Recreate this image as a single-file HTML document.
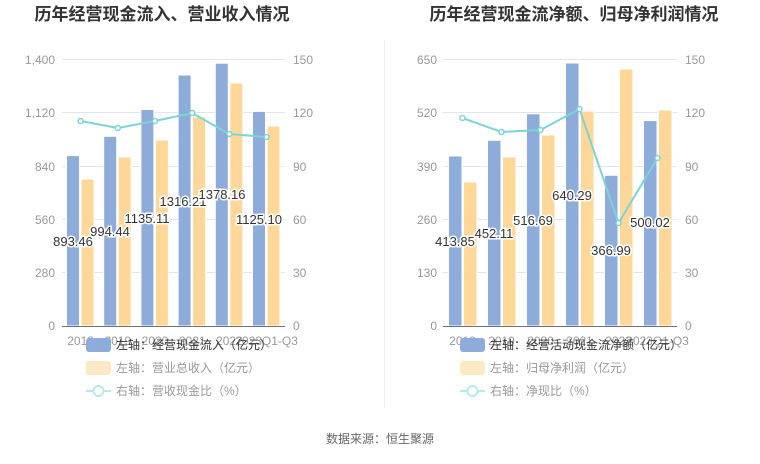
<!DOCTYPE html>
<html><head><meta charset="utf-8"><style>
body{margin:0;background:#fff;}
svg text{font-family:"Liberation Sans","Noto Sans CJK SC",sans-serif;}
</style></head><body>
<svg width="760" height="459" viewBox="0 0 760 459" xmlns="http://www.w3.org/2000/svg">
<text x="162" y="20" text-anchor="middle" font-size="17" font-weight="bold" fill="#333">历年经营现金流入、营业收入情况</text>
<text x="574" y="20" text-anchor="middle" font-size="17" font-weight="bold" fill="#333">历年经营现金流净额、归母净利润情况</text>
<line x1="384.5" y1="40" x2="384.5" y2="408" stroke="#eee"/>

<!-- LEFT CHART -->
<g stroke="#e0e6f1" stroke-width="1">
<line x1="62" y1="59.5" x2="285" y2="59.5"/><line x1="62" y1="112.5" x2="285" y2="112.5"/>
<line x1="62" y1="166.5" x2="285" y2="166.5"/><line x1="62" y1="219.5" x2="285" y2="219.5"/>
<line x1="62" y1="272.5" x2="285" y2="272.5"/>
</g>
<g font-size="12" fill="#999" text-anchor="end">
<text x="55" y="64">1,400</text><text x="55" y="117">1,120</text><text x="55" y="171">840</text>
<text x="55" y="224">560</text><text x="55" y="277">280</text><text x="55" y="330">0</text>
</g>
<g font-size="12" fill="#999">
<text x="293" y="64">150</text><text x="293" y="117">120</text><text x="293" y="171">90</text>
<text x="293" y="224">60</text><text x="293" y="277">30</text><text x="293" y="330">0</text>
</g>
<g fill="#8eacd9" stroke="#fff" stroke-width="1">
<rect x="66.5" y="155.6" width="13" height="170.4"/>
<rect x="103.7" y="136.3" width="13" height="189.7"/>
<rect x="140.9" y="109.5" width="13" height="216.5"/>
<rect x="178.1" y="75" width="13" height="251"/>
<rect x="215.3" y="63.2" width="13" height="262.8"/>
<rect x="252.5" y="111.4" width="13" height="214.6"/>
</g>
<g fill="#ffd899" stroke="#fff" stroke-width="1">
<rect x="81" y="179" width="13" height="147"/>
<rect x="118.2" y="157" width="13" height="169"/>
<rect x="155.4" y="140" width="13" height="186"/>
<rect x="192.6" y="117" width="13" height="209"/>
<rect x="229.8" y="83" width="13" height="243"/>
<rect x="267" y="126" width="13" height="200"/>
</g>
<line x1="62" y1="326.5" x2="285" y2="326.5" stroke="#6e7079"/>
<polyline points="80.6,121 117.8,128 155,121 192.2,113 229.4,134 266.6,137" fill="none" stroke="#7dd3d5" stroke-width="2"/>
<g fill="#fff" stroke="#7dd3d5" stroke-width="1.5">
<circle cx="80.6" cy="121" r="2.5"/><circle cx="117.8" cy="128" r="2.5"/><circle cx="155" cy="121" r="2.5"/>
<circle cx="192.2" cy="113" r="2.5"/><circle cx="229.4" cy="134" r="2.5"/><circle cx="266.6" cy="137" r="2.5"/>
</g>
<g font-size="12" fill="#999" text-anchor="middle">
<text x="80.6" y="345">2018</text><text x="117.8" y="345">2019</text><text x="155" y="345">2020</text>
<text x="192.2" y="345">2021</text><text x="229.4" y="345">2022</text><text x="266.6" y="345">2023Q1-Q3</text>
</g>
<g font-size="13" fill="#333" stroke="#fff" stroke-width="3" paint-order="stroke" text-anchor="middle">
<text x="73" y="246">893.46</text><text x="110" y="236">994.44</text><text x="147" y="223">1135.11</text>
<text x="183" y="206">1316.21</text><text x="222" y="199">1378.16</text><text x="259" y="224">1125.10</text>
</g>
<rect x="86" y="338" width="25" height="14" rx="3" fill="#8eacd9"/>
<text x="116" y="349" font-size="12" fill="#333">左轴：经营现金流入（亿元）</text>
<rect x="86" y="361" width="25" height="14" rx="3" fill="#ffe8c6"/>
<text x="116" y="372" font-size="12" fill="#999">左轴：营业总收入（亿元）</text>
<line x1="86" y1="391" x2="111" y2="391" stroke="#b7e8ea" stroke-width="2"/>
<circle cx="98.5" cy="391" r="5" fill="#fff" stroke="#b7e8ea" stroke-width="2"/>
<text x="116" y="395" font-size="12" fill="#999">右轴：营收现金比（%）</text>

<!-- RIGHT CHART -->
<g stroke="#e0e6f1" stroke-width="1">
<line x1="443" y1="59.5" x2="677" y2="59.5"/><line x1="443" y1="112.5" x2="677" y2="112.5"/>
<line x1="443" y1="166.5" x2="677" y2="166.5"/><line x1="443" y1="219.5" x2="677" y2="219.5"/>
<line x1="443" y1="272.5" x2="677" y2="272.5"/>
</g>
<g font-size="12" fill="#999" text-anchor="end">
<text x="437" y="64">650</text><text x="437" y="117">520</text><text x="437" y="171">390</text>
<text x="437" y="224">260</text><text x="437" y="277">130</text><text x="437" y="330">0</text>
</g>
<g font-size="12" fill="#999">
<text x="685" y="64">150</text><text x="685" y="117">120</text><text x="685" y="171">90</text>
<text x="685" y="224">60</text><text x="685" y="277">30</text><text x="685" y="330">0</text>
</g>
<g fill="#8eacd9" stroke="#fff" stroke-width="1">
<rect x="448.5" y="156" width="13.5" height="170"/>
<rect x="487.5" y="140.3" width="13.5" height="185.7"/>
<rect x="526.5" y="113.8" width="13.5" height="212.2"/>
<rect x="565.5" y="63" width="13.5" height="263"/>
<rect x="604.5" y="175.3" width="13.5" height="150.7"/>
<rect x="643.5" y="120.6" width="13.5" height="205.4"/>
</g>
<g fill="#ffd899" stroke="#fff" stroke-width="1">
<rect x="463.5" y="182" width="13.5" height="144"/>
<rect x="502.5" y="157" width="13.5" height="169"/>
<rect x="541.5" y="135" width="13.5" height="191"/>
<rect x="580.5" y="111" width="13.5" height="215"/>
<rect x="619.5" y="69" width="13.5" height="257"/>
<rect x="658.5" y="110" width="13.5" height="216"/>
</g>
<line x1="443" y1="326.5" x2="677" y2="326.5" stroke="#6e7079"/>
<polyline points="462.5,118 501.5,132 540.5,130 579.5,109 618.5,223 657.5,158" fill="none" stroke="#7dd3d5" stroke-width="2"/>
<g fill="#fff" stroke="#7dd3d5" stroke-width="1.5">
<circle cx="462.5" cy="118" r="2.5"/><circle cx="501.5" cy="132" r="2.5"/><circle cx="540.5" cy="130" r="2.5"/>
<circle cx="579.5" cy="109" r="2.5"/><circle cx="618.5" cy="223" r="2.5"/><circle cx="657.5" cy="158" r="2.5"/>
</g>
<g font-size="12" fill="#999" text-anchor="middle">
<text x="462.5" y="345">2018</text><text x="501.5" y="345">2019</text><text x="540.5" y="345">2020</text>
<text x="579.5" y="345">2021</text><text x="618.5" y="345">2022</text><text x="657.5" y="345">2023Q1-Q3</text>
</g>
<g font-size="13" fill="#333" stroke="#fff" stroke-width="3" paint-order="stroke" text-anchor="middle">
<text x="455" y="246">413.85</text><text x="494" y="238">452.11</text><text x="533" y="225">516.69</text>
<text x="572" y="200">640.29</text><text x="611" y="255">366.99</text><text x="650" y="227">500.02</text>
</g>
<rect x="460" y="338" width="25" height="14" rx="3" fill="#8eacd9"/>
<text x="490" y="349" font-size="12" fill="#333">左轴：经营活动现金流净额（亿元）</text>
<rect x="460" y="361" width="25" height="14" rx="3" fill="#ffe8c6"/>
<text x="490" y="372" font-size="12" fill="#999">左轴：归母净利润（亿元）</text>
<line x1="460" y1="391" x2="485" y2="391" stroke="#b7e8ea" stroke-width="2"/>
<circle cx="472.5" cy="391" r="5" fill="#fff" stroke="#b7e8ea" stroke-width="2"/>
<text x="490" y="395" font-size="12" fill="#999">右轴：净现比（%）</text>

<text x="380" y="443" text-anchor="middle" font-size="12" fill="#666">数据来源：恒生聚源</text>
</svg>
</body></html>
